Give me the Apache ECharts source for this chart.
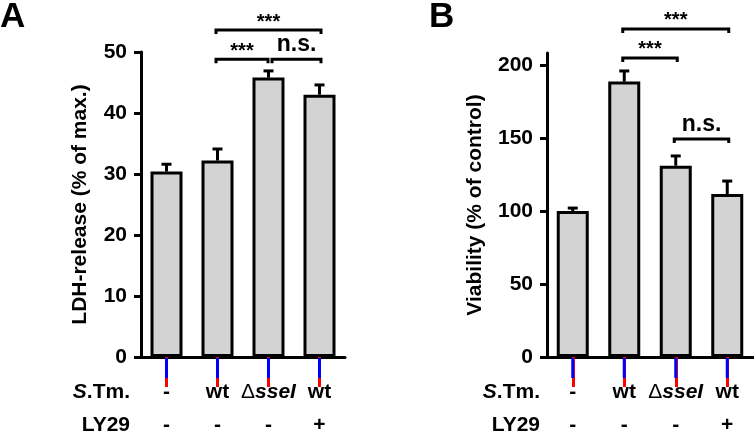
<!DOCTYPE html>
<html>
<head>
<meta charset="utf-8">
<script src="https://cdn.jsdelivr.net/npm/echarts@6/dist/echarts.min.js"></script>
<style>
html, body { margin: 0; padding: 0; background: #fff; }
#chart { width: 754px; height: 432px; }
</style>
</head>
<body>
<div id="chart"></div>
<script>
// 类别 / 标签
var categories = ['ctrl', 'wt', 'sseI', 'wt+LY29'];
var stmLabels = ['-', 'wt', 'ΔsseI', 'wt'];
var lyLabels = ['-', '-', '-', '+'];

// A: LDH-release (% of max.)
var ldhMean = [30.4, 32.2, 45.8, 43.0];
var ldhErr = [1.2, 1.9, 1.1, 1.6];
var ldhTicks = [0, 10, 20, 30, 40, 50];

// B: Viability (% of control)
var viaMean = [100, 188.6, 131, 111.6];
var viaErr = [2, 7.3, 6.7, 8.9];
var viaTicks = [0, 50, 100, 150, 200];

// significance brackets: [from, to, height]
var bracketsA = [[1, 3, 53.6], [1, 2, 48.8], [2, 3, 48.8]];
var bracketLabelsA = ['***', '***', 'n.s.'];
var bracketsB = [[1, 3, 224.7], [1, 2, 204.8], [2, 3, 149.3]];
var bracketLabelsB = ['***', '***', 'n.s.'];

var FONT = 'Liberation Sans, Arial, sans-serif';
var myChart = echarts.init(document.getElementById('chart'));

// 误差线 + x 轴下方的小刻度
function errRender(params, api) {
    var base = api.coord([api.value(0), api.value(1)]);
    var top = api.coord([api.value(0), api.value(2)]);
    var zero = api.coord([api.value(0), 0]);
    return {
        type: 'group',
        children: [
            { type: 'line', shape: { x1: base[0], y1: base[1], x2: top[0], y2: top[1] }, style: { stroke: '#000', lineWidth: 3 } },
            { type: 'line', shape: { x1: top[0] - 5, y1: top[1], x2: top[0] + 5, y2: top[1] }, style: { stroke: '#000', lineWidth: 3 } },
            { type: 'rect', shape: { x: zero[0] - 1.5, y: zero[1] + 1, width: 3, height: 20 }, style: { fill: 'blue' } }
        ]
    };
}

function bracketRender(list, labels) {
    return function (params, api) {
        var b = list[params.dataIndex];
        var p1 = api.coord([b[0], b[2]]);
        var p2 = api.coord([b[1], b[2]]);
        var x1 = p1[0] - 1.5, x2 = p2[0] + 1.5, y = p1[1];
        list.forEach(function (o) {
            if (o !== b && o[2] === b[2] && o[1] === b[0]) x1 += 5;
            if (o !== b && o[2] === b[2] && o[0] === b[1]) x2 -= 2;
        });
        var lab = labels[params.dataIndex];
        return {
            type: 'group',
            children: [
                { type: 'polyline', shape: { points: [[x1, y + 4], [x1, y], [x2, y], [x2, y + 4]] }, style: { stroke: '#000', lineWidth: 3, fill: null } },
                { type: 'text', x: (x1 + x2) / 2, y: lab === '***' ? y + 2 : y - 3,
                  style: { text: lab, font: 'bold ' + (lab === '***' ? 20 : 23) + 'px ' + FONT, fill: '#000', align: 'center', verticalAlign: 'bottom' } }
            ]
        };
    };
}

function xLabel(value, idx) {
    var s = stmLabels[idx];
    var top = s.charAt(0) === 'Δ' ? '{d|Δ}{i|' + s.slice(1) + '}' : '{b|' + s + '}';
    return top + '\n{b|' + lyLabels[idx] + '}';
}

function makeX(gi) {
    return {
        type: 'category', gridIndex: gi, data: categories,
        axisLine: { show: true, lineStyle: { color: '#000', width: 3 } },
        axisTick: { show: true, alignWithLabel: true, interval: 0, length: 30, lineStyle: { color: 'red', width: 3 } },
        axisLabel: {
            margin: 19, interval: 0, formatter: xLabel, color: '#000',
            rich: {
                b: { fontFamily: FONT, fontWeight: 'bold', fontSize: 21, lineHeight: 33, color: '#000' },
                i: { fontFamily: FONT, fontWeight: 'bold', fontStyle: 'italic', fontSize: 21, lineHeight: 33, color: '#000' },
                d: { fontFamily: FONT, fontWeight: 'normal', fontSize: 21, lineHeight: 33, color: '#000' }
            }
        }
    };
}

function makeY(gi, max, ticks, name, gap) {
    return {
        type: 'value', gridIndex: gi, min: 0, max: max,
        name: name, nameLocation: 'middle', nameGap: gap, nameRotate: 90,
        nameTextStyle: { fontFamily: FONT, fontWeight: 'bold', fontSize: 21, color: '#000' },
        axisLine: { show: true, lineStyle: { color: '#000', width: 3 } },
        axisTick: { show: true, length: 7, customValues: ticks, lineStyle: { color: '#000', width: 3 } },
        axisLabel: { margin: 14, customValues: ticks, fontFamily: FONT, fontWeight: 'bold', fontSize: 21, color: '#000' },
        splitLine: { show: false }
    };
}

function rowHeader(right) {
    return [
        { type: 'text', right: right, top: 382, style: { text: '{i|S}{b|.Tm.}', align: 'right',
            rich: { i: { fontFamily: FONT, fontWeight: 'bold', fontStyle: 'italic', fontSize: 21, fill: '#000' },
                    b: { fontFamily: FONT, fontWeight: 'bold', fontSize: 21, fill: '#000' } } } },
        { type: 'text', right: right, top: 415, style: { text: 'LY29', font: 'bold 21px ' + FONT, fill: '#000' } }
    ];
}

var barStyle = { color: '#d3d3d3', borderColor: '#000', borderWidth: 3 };

var option = {
    animation: false,
    backgroundColor: '#fff',
    textStyle: { fontFamily: FONT },
    grid: [
        { left: 141, width: 204, top: 52, bottom: 75, outerBoundsMode: 'none' },
        { left: 547, width: 206, top: 53, bottom: 75, outerBoundsMode: 'none' }
    ],
    xAxis: [makeX(0), makeX(1)],
    yAxis: [
        makeY(0, 50, ldhTicks, 'LDH-release (% of max.)', 50),
        makeY(1, 208.2, viaTicks, 'Viability (% of control)', 61)
    ],
    graphic: [
        { type: 'text', left: 0, top: 0, style: { text: 'A', font: 'bold 35px ' + FONT, fill: '#000' } },
        { type: 'text', left: 429, top: 0, style: { text: 'B', font: 'bold 35px ' + FONT, fill: '#000' } }
    ].concat(rowHeader(624)).concat(rowHeader(214)),
    series: [
        { type: 'custom', xAxisIndex: 0, yAxisIndex: 0, renderItem: errRender, z: 1, clip: false,
          data: ldhMean.map(function (m, i) { return [i, m, m + ldhErr[i]]; }) },
        { type: 'bar', xAxisIndex: 0, yAxisIndex: 0, barWidth: 32, itemStyle: barStyle, data: ldhMean, z: 2 },
        { type: 'custom', xAxisIndex: 0, yAxisIndex: 0, renderItem: bracketRender(bracketsA, bracketLabelsA), clip: false,
          data: bracketsA.map(function (b) { return [b[0], b[2]]; }) },
        { type: 'custom', xAxisIndex: 1, yAxisIndex: 1, renderItem: errRender, z: 1, clip: false,
          data: viaMean.map(function (m, i) { return [i, m, m + viaErr[i]]; }) },
        { type: 'bar', xAxisIndex: 1, yAxisIndex: 1, barWidth: 32, itemStyle: barStyle, data: viaMean, z: 2 },
        { type: 'custom', xAxisIndex: 1, yAxisIndex: 1, renderItem: bracketRender(bracketsB, bracketLabelsB), clip: false,
          data: bracketsB.map(function (b) { return [b[0], b[2]]; }) }
    ]
};
myChart.setOption(option);
</script>
</body>
</html>
